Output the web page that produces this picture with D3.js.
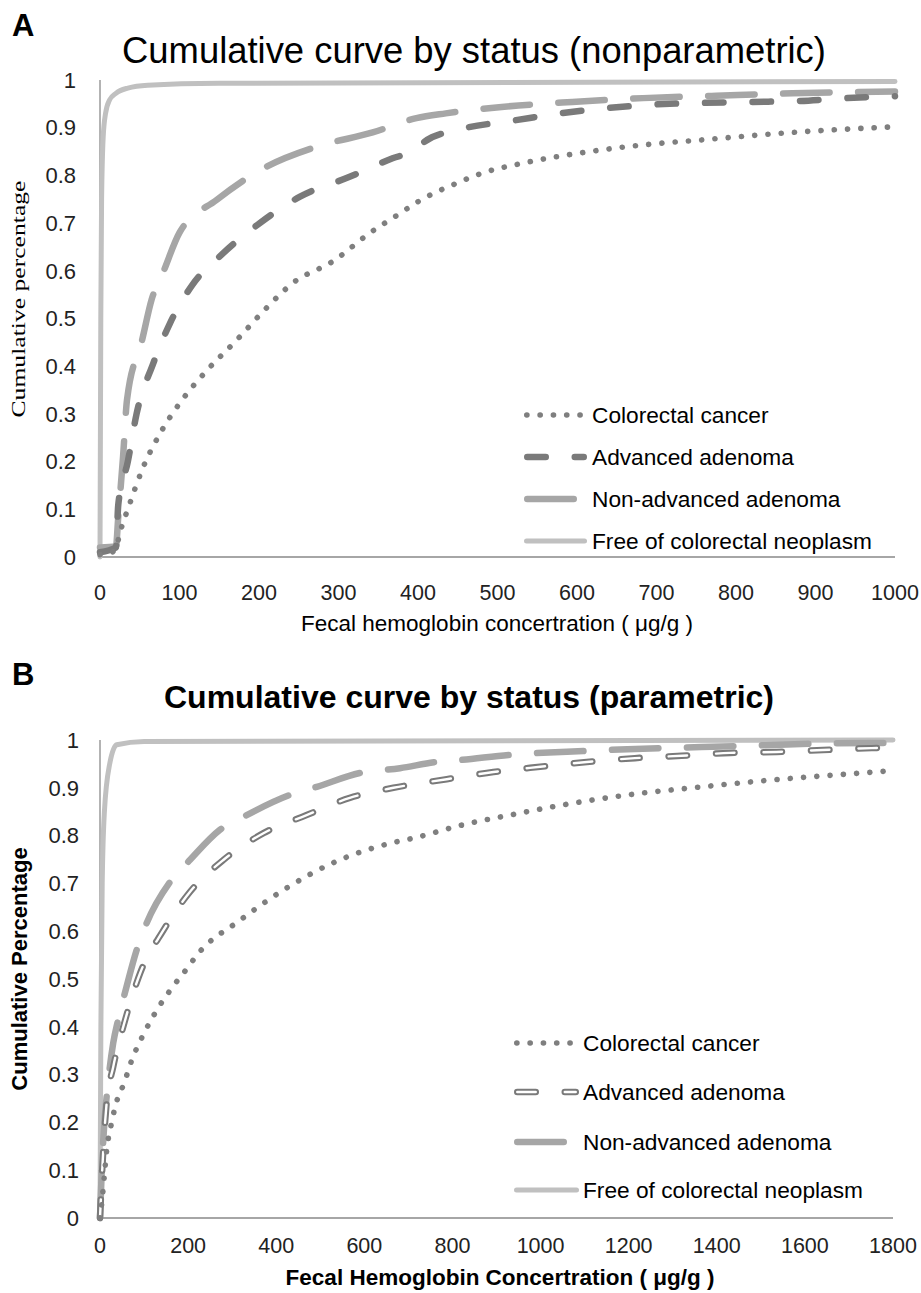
<!DOCTYPE html>
<html>
<head>
<meta charset="utf-8">
<title>Cumulative curves by status</title>
<script src="https://d3js.org/d3.v7.min.js"></script>
<style>
    body { margin: 0; background: #fff; }
    svg { display: block; font-family: "Liberation Sans", Arial, sans-serif; }
    .tick-label { fill: #222; }
</style>
</head>
<body>
<div id="chart"></div>
<script>
// series names (legend order)
const seriesNames = ['Colorectal cancer', 'Advanced adenoma', 'Non-advanced adenoma', 'Free of colorectal neoplasm'];

// Panel A - nonparametric, [fecal Hb (µg/g), cumulative share]
const cancerA = [[0,0.005],[15,0.01],[22,0.03],[25,0.05],[36,0.105],[54,0.187],[77,0.263],[105,0.333],[136,0.394],[172,0.455],[207,0.518],[243,0.575],[293,0.62],[340,0.68],[377,0.72],[400,0.745],[452,0.786],[481,0.805],[530,0.825],[612,0.849],[690,0.865],[754,0.874],[879,0.891],[1000,0.902]];
const advancedA = [[0,0.01],[20,0.02],[23,0.11],[35,0.2],[46,0.3],[67,0.406],[88,0.49],[116,0.57],[155,0.637],[201,0.70],[251,0.755],[314,0.797],[368,0.836],[398,0.855],[406,0.868],[448,0.895],[461,0.9],[520,0.915],[578,0.93],[691,0.948],[817,0.954],[879,0.956],[938,0.962],[1000,0.966]];
const nonAdvancedA = [[0,0.02],[20,0.022],[23,0.085],[29,0.21],[34,0.33],[53,0.455],[65,0.54],[79,0.595],[100,0.68],[147,0.749],[209,0.818],[272,0.86],[343,0.89],[398,0.92],[435,0.93],[502,0.943],[594,0.954],[683,0.962],[775,0.967],[871,0.972],[1000,0.976]];
const freeA = [[0,0],[1,0.5],[2,0.75],[4,0.88],[7,0.93],[12,0.958],[20,0.972],[35,0.983],[60,0.989],[150,0.993],[1000,0.997]];

// Panel B - parametric
const cancerB = [[0,0],[5,0.04],[10,0.09],[15,0.14],[26,0.198],[41,0.253],[53,0.278],[72,0.33],[98,0.383],[129,0.435],[163,0.481],[200,0.525],[220,0.55],[318,0.623],[416,0.686],[529,0.743],[673,0.787],[704,0.793],[821,0.822],[942,0.845],[1062,0.866],[1214,0.887],[1366,0.902],[1520,0.916],[1672,0.927],[1800,0.936]];
const advancedB = [[0,0],[5,0.1],[10,0.18],[15,0.24],[30,0.316],[57,0.414],[91,0.512],[144,0.602],[204,0.682],[280,0.749],[371,0.805],[469,0.843],[567,0.879],[666,0.9],[787,0.918],[893,0.933],[999,0.944],[1105,0.954],[1214,0.962],[1320,0.967],[1430,0.973],[1536,0.975],[1641,0.979],[1752,0.983],[1800,0.984]];
const nonAdvancedB = [[0,0],[5,0.12],[10,0.2],[15,0.253],[30,0.366],[41,0.414],[60,0.483],[83,0.56],[106,0.617],[159,0.703],[204,0.749],[272,0.812],[333,0.843],[431,0.885],[492,0.902],[590,0.931],[681,0.941],[764,0.954],[817,0.958],[931,0.969],[1102,0.977],[1271,0.983],[1441,0.987],[1609,0.992],[1800,0.994]];
const freeB = [[0,0],[2,0.4],[5,0.7],[10,0.85],[22,0.95],[38,0.99],[100,0.997],[1800,1]];

// tick values
const xTicksA = [0,100,200,300,400,500,600,700,800,900,1000];
const xTicksB = [0,200,400,600,800,1000,1200,1400,1600,1800];
const yTicks = [0,0.1,0.2,0.3,0.4,0.5,0.6,0.7,0.8,0.9,1];

// line styles per series
const styles = [
    { color: '#7f7f7f', width: 5.6, dash: '0.1 13.2' },   // dotted
    { color: '#7a7a7a', width: 6.5, dash: '18.5 29' },    // dash
    { color: '#a6a6a6', width: 6.5, dash: '46.5 28.5' },  // long dash
    { color: '#c0c0c0', width: 5,   dash: null }           // solid
];

const W = 921, H = 1293;
const svg = d3.select('#chart').append('svg')
    .attr('width', W).attr('height', H);

function drawPanel(p) {
    const x = d3.scaleLinear().domain(p.xDomain).range([100, p.xRight]);
    const y = d3.scaleLinear().domain([0, 1]).range([p.yBottom, p.yTop]);
    const g = svg.append('g');

    // panel letter + title
    g.append('text').attr('x', 12).attr('y', p.letterY)
        .style('font-size', '31px').style('font-weight', 'bold').text(p.letter);
    g.append('text').attr('x', p.titleX).attr('y', p.titleY)
        .attr('text-anchor', 'middle')
        .style('font-size', p.titleSize).style('font-weight', p.titleWeight)
        .text(p.title);

    // axes lines
    g.append('line').attr('x1', x(0)).attr('x2', x(0))
        .attr('y1', y(1)).attr('y2', y(0))
        .attr('stroke', '#8a8a8a').attr('stroke-width', 1.3);
    g.append('line').attr('x1', x(0)).attr('x2', p.xRight)
        .attr('y1', y(0)).attr('y2', y(0))
        .attr('stroke', '#a6a6a6').attr('stroke-width', 2);

    // tick labels
    g.selectAll('.ytl').data(yTicks).enter().append('text')
        .attr('class', 'tick-label')
        .attr('x', p.yTickX).attr('y', d => y(d)).attr('dy', '0.35em')
        .attr('text-anchor', 'end').style('font-size', '22px')
        .text(d => d3.format('~g')(d));
    g.selectAll('.xtl').data(p.xTicks).enter().append('text')
        .attr('class', 'tick-label')
        .attr('x', d => x(d)).attr('y', p.xTickY)
        .attr('text-anchor', 'middle').style('font-size', '21.5px')
        .text(d => d);

    // axis titles
    g.append('text').attr('x', p.xTitleX).attr('y', p.xTitleY)
        .attr('text-anchor', 'middle')
        .style('font-size', '22.5px').style('font-weight', p.xTitleWeight)
        .text(p.xTitle);
    const yt = g.append('text')
        .attr('transform', `translate(${p.yTitleX},${p.yTitleCy}) rotate(-90)`)
        .attr('text-anchor', 'middle')
        .text(p.yTitle);
    if (p.yTitleSerif) {
        yt.style('font-family', '"Liberation Serif", "DejaVu Serif", serif')
            .style('font-size', '19px')
            .attr('textLength', 237).attr('lengthAdjust', 'spacingAndGlyphs');
    } else {
        yt.style('font-size', '22px').style('font-weight', 'bold');
    }

    // curves
    const line = d3.line().x(d => x(d[0])).y(d => y(d[1])).curve(d3.curveMonotoneX);
    const order = [3, 2, 1, 0];
    order.forEach(i => {
        const s = styles[i];
        const path = g.append('path').datum(p.series[i])
            .attr('d', line).attr('fill', 'none')
            .attr('stroke', s.color).attr('stroke-width', s.width)
            .attr('stroke-linecap', 'round').attr('stroke-linejoin', 'round');
        if (s.dash) path.attr('stroke-dasharray', s.dash);
        if (i === 1 && p.outlined) {
            g.append('path').datum(p.series[i])
                .attr('d', line).attr('fill', 'none')
                .attr('stroke', '#fff').attr('stroke-width', 2.4)
                .attr('stroke-linecap', 'round')
                .attr('stroke-dasharray', s.dash);
        }
    });

    // legend
    const leg = g.append('g');
    seriesNames.forEach((name, i) => {
        const s = styles[i];
        const ly = p.legendY[i];
        const l = leg.append('line')
            .attr('x1', p.legendX0 + s.width / 2).attr('x2', p.legendX1 - s.width / 2)
            .attr('y1', ly).attr('y2', ly)
            .attr('stroke', s.color).attr('stroke-width', s.width)
            .attr('stroke-linecap', 'round');
        if (s.dash) l.attr('stroke-dasharray', s.dash);
        if (i === 1 && p.outlined) {
            leg.append('line')
                .attr('x1', p.legendX0 + s.width / 2).attr('x2', p.legendX1 - s.width / 2)
                .attr('y1', ly).attr('y2', ly)
                .attr('stroke', '#fff').attr('stroke-width', 2.4)
                .attr('stroke-linecap', 'round').attr('stroke-dasharray', s.dash);
        }
        leg.append('text').attr('x', p.legendTextX).attr('y', ly).attr('dy', '0.35em')
            .style('font-size', '22.7px').text(name);
    });
}

drawPanel({
    letter: 'A', letterY: 36,
    title: 'Cumulative curve by status (nonparametric)', titleX: 474, titleY: 63,
    titleSize: '36.4px', titleWeight: 'normal',
    xDomain: [0, 1000], xRight: 895, yTop: 80, yBottom: 557,
    xTicks: xTicksA, xTickY: 600, yTickX: 76,
    xTitle: 'Fecal hemoglobin concertration ( μg/g )', xTitleX: 497, xTitleY: 631, xTitleWeight: 'normal',
    yTitle: 'Cumulative percentage', yTitleX: 25, yTitleCy: 299, yTitleSerif: true,
    series: [cancerA, advancedA, nonAdvancedA, freeA], outlined: false,
    legendX0: 524, legendX1: 587, legendTextX: 592, legendY: [415, 457, 499, 541]
});

drawPanel({
    letter: 'B', letterY: 685,
    title: 'Cumulative curve by status (parametric)', titleX: 469, titleY: 708,
    titleSize: '32px', titleWeight: 'bold',
    xDomain: [0, 1800], xRight: 893, yTop: 740, yBottom: 1218,
    xTicks: xTicksB, xTickY: 1253, yTickX: 79,
    xTitle: 'Fecal Hemoglobin Concertration ( μg/g )', xTitleX: 500, xTitleY: 1285, xTitleWeight: 'bold',
    yTitle: 'Cumulative Percentage', yTitleX: 27, yTitleCy: 969, yTitleSerif: false,
    series: [cancerB, advancedB, nonAdvancedB, freeB], outlined: true,
    legendX0: 514, legendX1: 579, legendTextX: 583, legendY: [1043, 1092, 1142, 1190]
});
</script>
</body>
</html>
